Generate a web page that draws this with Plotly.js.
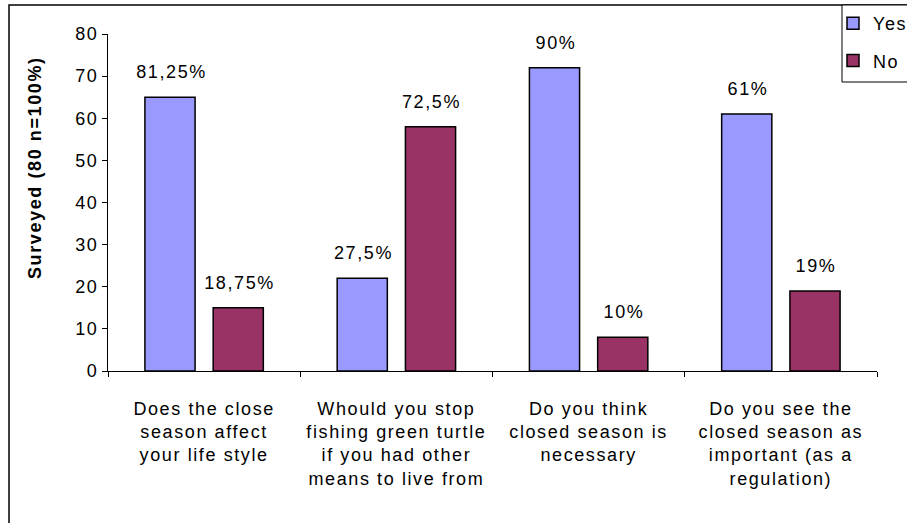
<!DOCTYPE html>
<html>
<head>
<meta charset="utf-8">
<script src="https://cdn.plot.ly/plotly-3.0.1.min.js"></script>
<style>
html, body { margin: 0; padding: 0; background: #fff; }
#chart { width: 907px; height: 523px; }
#chart svg text { letter-spacing: 1.6px; }
</style>
</head>
<body>
<div id="chart"></div>
<script>
const categories = [
  "Does the close<br>season affect<br>your life style",
  "Whould you stop<br>fishing green turtle<br>if you had other<br>means to live from",
  "Do you think<br>closed season is<br>necessary",
  "Do you see the<br>closed season as<br>important (as a<br>regulation)"
];
const seriesNames = ["Yes", "No"];
const yesValues = [65, 22, 72, 61];
const noValues = [15, 58, 8, 19];
const yesLabels = ["81,25%", "27,5%", "90%", "61%"];
const noLabels = ["18,75%", "72,5%", "10%", "19%"];
const yTicks = [0, 10, 20, 30, 40, 50, 60, 70, 80];

const FONT = "Liberation Sans, Arial, sans-serif";

const traces = [
  {
    type: "bar", name: seriesNames[0], x: categories, y: yesValues,
    legendgroup: "a",
    marker: { color: "#9999FF", line: { color: "#000000", width: 1.5 } },
    hoverinfo: "none"
  },
  {
    type: "bar", name: seriesNames[1], x: categories, y: noValues,
    legendgroup: "b",
    marker: { color: "#993366", line: { color: "#000000", width: 1.5 } },
    hoverinfo: "none"
  }
];

// px -> paper helpers for layout placement
const L = 108, R = 877, T = 34, B = 371;
const px = v => (v - L) / (R - L);
const py = v => (B - v) / (B - T);

const annotations = [];
categories.forEach((c, i) => {
  annotations.push({ x: c, y: yesValues[i], xref: "x", yref: "y", text: yesLabels[i],
    showarrow: false, xshift: -33, yshift: 25, yanchor: "middle",
    font: { family: FONT, size: 18, color: "#000" } });
  annotations.push({ x: c, y: noValues[i], xref: "x", yref: "y", text: noLabels[i],
    showarrow: false, xshift: 35, yshift: 25, yanchor: "middle",
    font: { family: FONT, size: 18, color: "#000" } });
});
annotations.push({
  x: px(35), y: py(168), xref: "paper", yref: "paper",
  text: "<b>Surveyed (80 n=100%)</b>", textangle: -90, showarrow: false,
  xanchor: "center", yanchor: "middle",
  font: { family: FONT, size: 18, color: "#000" }
});

const layout = {
  width: 907, height: 523,
  margin: { l: L, r: 907 - R, t: T, b: 523 - B, autoexpand: false },
  paper_bgcolor: "#ffffff", plot_bgcolor: "#ffffff",
  font: { family: FONT, size: 18, color: "#000" },
  barmode: "group", bargap: 0.29, bargroupgap: 0.265,
  showlegend: true,
  legend: {
    x: px(833), y: py(5), xanchor: "left", yanchor: "top",
    xref: "paper", yref: "paper",
    bgcolor: "rgba(0,0,0,0)", borderwidth: 0,
    font: { family: FONT, size: 18, color: "#000" },
    traceorder: "grouped", tracegroupgap: 11
  },
  xaxis: {
    type: "category", showgrid: false, zeroline: false,
    showline: true, linecolor: "#000", linewidth: 1,
    ticks: "outside", tickson: "boundaries", ticklen: 5, tickcolor: "#000",
    tickfont: { family: FONT, size: 18, color: "#000" },
    ticklabelstandoff: 21,
    fixedrange: true
  },
  yaxis: {
    range: [0, 80], tickvals: yTicks, showgrid: false, zeroline: false,
    showline: true, linecolor: "#000", linewidth: 1,
    ticks: "outside", ticklen: 5, tickcolor: "#000",
    tickfont: { family: FONT, size: 18, color: "#000" },
    ticklabelstandoff: 0,
    fixedrange: true
  },
  shapes: [
    {
      type: "rect", xref: "paper", yref: "paper",
      x0: px(9), x1: px(930), y0: py(5), y1: py(540),
      line: { color: "#000", width: 1.5 }, fillcolor: "rgba(0,0,0,0)", layer: "below"
    },
    {
      type: "rect", xref: "paper", yref: "paper",
      x0: px(842), x1: px(930), y0: py(5), y1: py(82),
      line: { color: "#000", width: 1 }, fillcolor: "#ffffff", layer: "above"
    }
  ],
  annotations: annotations
};

Plotly.newPlot("chart", traces, layout, { displayModeBar: false, staticPlot: true });
</script>
</body>
</html>
